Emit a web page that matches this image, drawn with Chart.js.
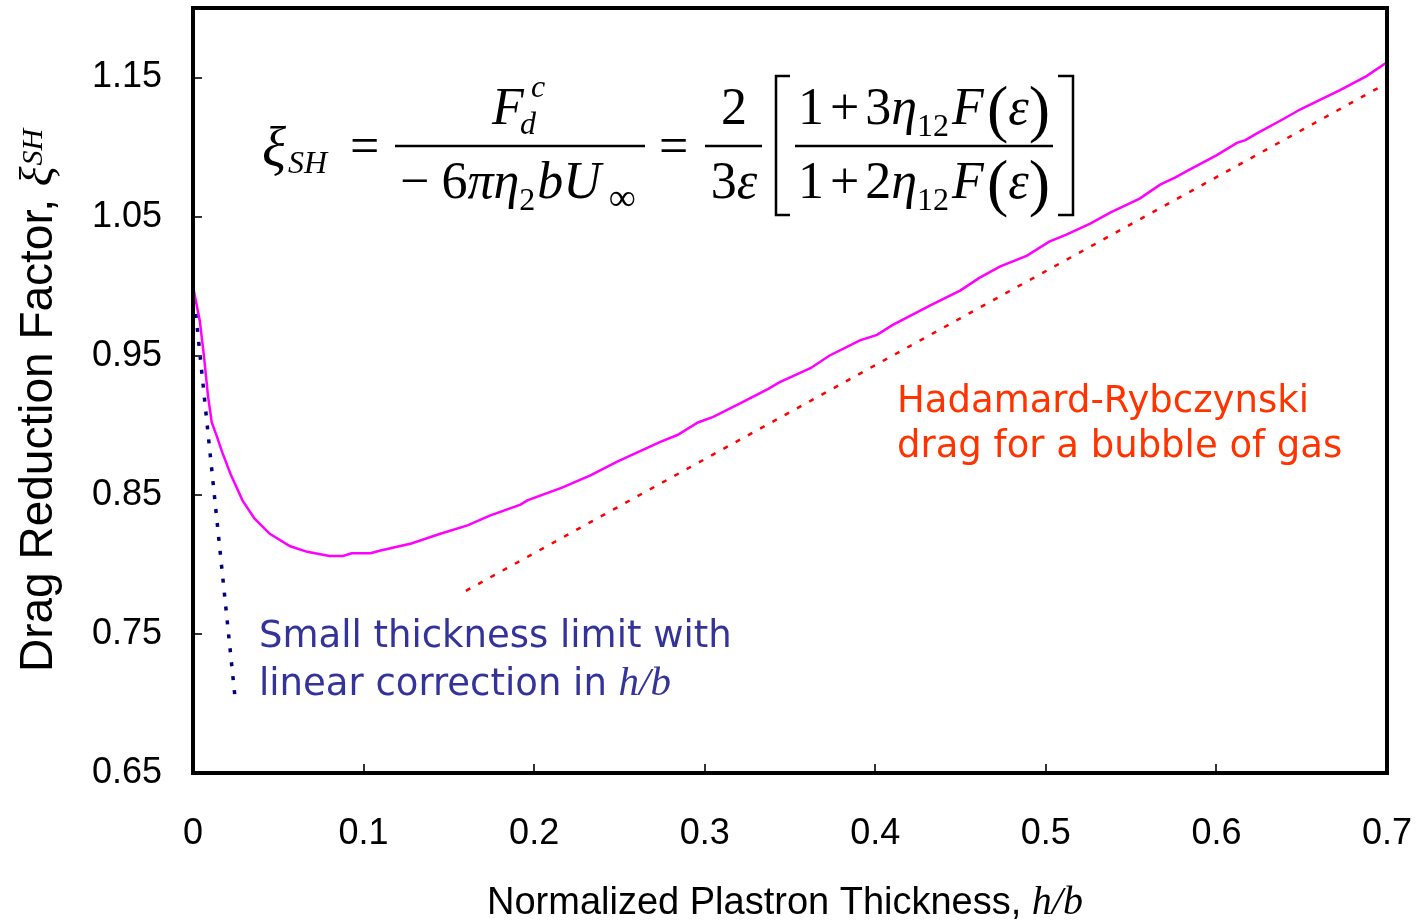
<!DOCTYPE html>
<html>
<head>
<meta charset="utf-8">
<script src="https://cdn.jsdelivr.net/npm/chart.js@4.4.1/dist/chart.umd.min.js"></script>
<style>
  html, body { margin: 0; padding: 0; background: #fff; }
  #wrap { width: 1416px; height: 920px; }
</style>
</head>
<body>
<div id="wrap"><canvas id="dragChart"></canvas></div>
<script>
// values
const curveX = [0, 0.004, 0.0064, 0.0088, 0.011, 0.014, 0.017, 0.022, 0.029, 0.036, 0.045, 0.057, 0.067, 0.08, 0.088, 0.093, 0.104, 0.11,
  0.128, 0.145, 0.161, 0.174, 0.192, 0.196, 0.216, 0.233, 0.249, 0.258, 0.274, 0.284, 0.296, 0.305, 0.321, 0.337, 0.344, 0.362, 0.373,
  0.391, 0.401, 0.41, 0.432, 0.45, 0.461, 0.473, 0.489, 0.502, 0.512, 0.526, 0.538, 0.555, 0.567, 0.5757, 0.5845, 0.6, 0.612, 0.617,
  0.624, 0.639, 0.649, 0.6625, 0.6725, 0.688, 0.7];
const curveY = [1.0, 0.975, 0.950, 0.921, 0.902, 0.892, 0.881, 0.865, 0.846, 0.833, 0.822, 0.813, 0.809, 0.806, 0.806, 0.808, 0.808, 0.810,
  0.815, 0.822, 0.828, 0.835, 0.843, 0.846, 0.855, 0.864, 0.874, 0.879, 0.888, 0.893, 0.902, 0.906, 0.916, 0.926, 0.931, 0.941, 0.950,
  0.961, 0.965, 0.972, 0.986, 0.997, 1.006, 1.014, 1.022, 1.032, 1.037, 1.045, 1.053, 1.063, 1.073, 1.078, 1.084, 1.094, 1.103, 1.105,
  1.110, 1.120, 1.127, 1.135, 1.141, 1.151, 1.161];

const hadamardX = [0.16, 0.7];
const hadamardY = [0.781, 1.146];

const smallLimitX = [0, 0.025];
const smallLimitY = [1.0, 0.70];

const xTicks = [0, 0.1, 0.2, 0.3, 0.4, 0.5, 0.6, 0.7];
const yTicks = [0.65, 0.75, 0.85, 0.95, 1.05, 1.15];

const pts = (xs, ys) => xs.map((x, i) => ({ x: x, y: ys[i] }));

const SANS = "'Liberation Sans', Arial, sans-serif";
const VERD = "'DejaVu Sans', Verdana, sans-serif";
const SERIF = "'Liberation Serif', 'Times New Roman', serif";
const I = s => "italic " + s + "px " + SERIF;
const R = s => s + "px " + SERIF;

// draws a row of text pieces one after another, returns its width
function seq(ctx, x, y, parts, draw) {
  let cx = x;
  for (const p of parts) {
    const [t, f, dy = 0, gap = 0] = p;
    ctx.font = f;
    cx += gap;
    if (draw) ctx.fillText(t, cx, y + dy);
    cx += ctx.measureText(t).width;
  }
  return cx - x;
}
function centered(ctx, cx, y, parts) {
  const w = seq(ctx, 0, 0, parts, false);
  seq(ctx, cx - w / 2, y, parts, true);
}

const decor = {
  id: "decor",
  afterDatasetsDraw(chart) {
    const ctx = chart.ctx;
    const a = chart.chartArea;
    const xs = chart.scales.x, ys = chart.scales.y;
    ctx.save();

    // inward tick marks
    ctx.strokeStyle = "#333";
    ctx.lineWidth = 2;
    ctx.beginPath();
    yTicks.forEach(v => {
      const py = Math.round(ys.getPixelForValue(v));
      ctx.moveTo(a.left, py); ctx.lineTo(a.left + 9, py);
    });
    xTicks.forEach(v => {
      const px = Math.round(xs.getPixelForValue(v));
      ctx.moveTo(px, a.bottom); ctx.lineTo(px, a.bottom - 9);
    });
    ctx.stroke();

    // frame
    ctx.strokeStyle = "#000";
    ctx.lineWidth = 4;
    ctx.strokeRect(a.left, a.top, a.right - a.left, a.bottom - a.top);

    // axis titles
    ctx.fillStyle = "#000";
    ctx.textBaseline = "alphabetic";
    ctx.textAlign = "left";
    const xt = [["Normalized Plastron Thickness, ", "38px " + SANS], ["h/b", I(40)]];
    const xw = seq(ctx, 0, 0, xt, false);
    seq(ctx, 785 - xw / 2, 914, xt, true);

    ctx.save();
    ctx.translate(52, 672);
    ctx.rotate(-Math.PI / 2);
    seq(ctx, 0, 0, [["Drag Reduction Factor, ", "46px " + SANS], ["ξ", I(46)], ["SH", I(30), -10, 1]], true);
    ctx.restore();

    // equation
    ctx.fillStyle = "#000";
    seq(ctx, 262, 166, [["ξ", I(56)], ["SH", I(32), 7, 2]], true);
    ctx.font = R(52);
    ctx.fillText("=", 350, 163);
    ctx.fillText("=", 659, 163);

    ctx.lineWidth = 2.5;
    ctx.beginPath();
    ctx.moveTo(395, 146); ctx.lineTo(645, 146);
    ctx.moveTo(705, 146); ctx.lineTo(762, 146);
    ctx.moveTo(795, 146); ctx.lineTo(1053, 146);
    ctx.moveTo(790, 76); ctx.lineTo(776, 76); ctx.lineTo(776, 215); ctx.lineTo(790, 215);
    ctx.moveTo(1058, 76); ctx.lineTo(1073, 76); ctx.lineTo(1073, 215); ctx.lineTo(1058, 215);
    ctx.stroke();

    ctx.font = I(52);
    ctx.fillText("F", 492, 124);
    ctx.font = I(32);
    ctx.fillText("c", 531, 97);
    ctx.fillText("d", 520, 134);

    centered(ctx, 518, 198, [["−", R(52)], ["6", R(52), 0, 12], ["π", I(52)], ["η", I(52)], ["2", R(32), 12],
      ["b", I(52), 0, 2], ["U", I(52)], ["∞", R(38), 12, 8]]);

    centered(ctx, 734, 124, [["2", R(52)]]);
    centered(ctx, 734, 198, [["3", R(52)], ["ε", I(52)]]);

    const inner = d => [["1", R(52)], ["+", R(52), 0, 6], [d, R(52), 0, 6], ["η", I(52)], ["12", R(32), 12],
      ["F", I(52), 0, 3], ["(", R(64), 6, 3], ["ε", I(52)], [")", R(64), 6]];
    centered(ctx, 924, 124, inner("3"));
    centered(ctx, 924, 198, inner("2"));

    // annotations
    ctx.font = "37px " + VERD;
    ctx.fillStyle = "#FF3300";
    ctx.fillText("Hadamard-Rybczynski", 897, 412);
    ctx.fillText("drag for a bubble of gas", 897, 457);

    ctx.fillStyle = "#333399";
    ctx.fillText("Small thickness limit with", 259, 647);
    seq(ctx, 259, 695, [["linear correction in ", "37px " + VERD], ["h/b", I(41)]], true);

    ctx.restore();
  }
};

new Chart(document.getElementById("dragChart"), {
  type: "scatter",
  data: {
    datasets: [
      {
        label: "drag reduction",
        data: pts(curveX, curveY),
        showLine: true,
        borderColor: "#FF00FF",
        borderWidth: 2.5,
        pointRadius: 0,
        tension: 0
      },
      {
        label: "Hadamard-Rybczynski",
        data: pts(hadamardX, hadamardY),
        showLine: true,
        borderColor: "#FF0000",
        borderWidth: 2.5,
        borderDash: [5, 9],
        pointRadius: 0
      },
      {
        label: "small thickness limit",
        data: pts(smallLimitX, smallLimitY),
        showLine: true,
        borderColor: "#000080",
        borderWidth: 3.5,
        borderDash: [4, 10],
        pointRadius: 0
      }
    ]
  },
  options: {
    responsive: true,
    maintainAspectRatio: false,
    animation: false,
    layout: { padding: { top: 8, right: 29, left: 0, bottom: 0 } },
    plugins: { legend: { display: false }, tooltip: { enabled: false } },
    scales: {
      x: {
        type: "linear",
        min: 0,
        max: 0.7,
        grid: { display: false },
        border: { display: false },
        afterBuildTicks: s => { s.ticks = xTicks.map(v => ({ value: v })); },
        afterFit: s => { s.height = 147; s.paddingLeft = 0; s.paddingRight = 0; },
        ticks: {
          padding: 31,
          color: "#000",
          font: { family: SANS, size: 36 },
          maxRotation: 0,
          callback: v => (v === 0 ? "0" : v.toFixed(1))
        }
      },
      y: {
        type: "linear",
        min: 0.65,
        max: 1.2,
        grid: { display: false },
        border: { display: false },
        afterBuildTicks: s => { s.ticks = yTicks.map(v => ({ value: v })); },
        afterFit: s => { s.width = 193; s.paddingTop = 0; s.paddingBottom = 0; },
        ticks: {
          padding: 23,
          color: "#000",
          font: { family: SANS, size: 36 },
          callback: v => v.toFixed(2)
        }
      }
    }
  },
  plugins: [decor]
});
</script>
</body>
</html>
